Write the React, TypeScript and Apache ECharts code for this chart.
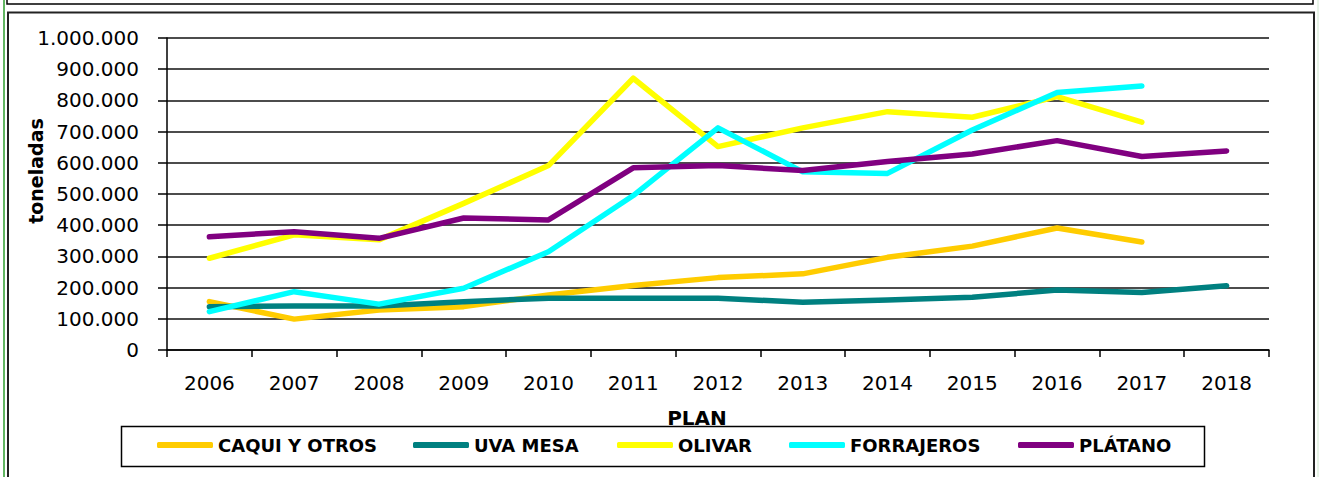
import React, { useEffect, useRef } from "react";
import * as echarts from "echarts";

const years = ["2006", "2007", "2008", "2009", "2010", "2011", "2012", "2013", "2014", "2015", "2016", "2017", "2018"];
const caqui = [155000, 99000, 128000, 139000, 176000, 207000, 232000, 244000, 297000, 333000, 391000, 346000, null];
const uvaMesa = [139000, 141000, 141000, 155000, 166000, 166000, 166000, 153000, 160000, 169000, 192000, 184000, 206000];
const olivar = [294000, 369000, 353000, 470000, 591000, 871000, 652000, 712000, 764000, 746000, 812000, 730000, null];
const forrajeros = [123000, 187000, 147000, 198000, 315000, 495000, 712000, 571000, 566000, 705000, 825000, 846000, null];
const platano = [363000, 379000, 358000, 423000, 417000, 584000, 591000, 575000, 604000, 628000, 671000, 620000, 638000];

const seriesNames = ["CAQUI Y OTROS", "UVA MESA", "OLIVAR", "FORRAJEROS", "PLÁTANO"];
const seriesColors = ["#FFCC00", "#008080", "#FFFF00", "#00FFFF", "#800080"];
const seriesData = [caqui, uvaMesa, olivar, forrajeros, platano];
const legendLefts = [157, 413, 617, 789, 1018];

const fmt = (v: number) => String(v).replace(/\B(?=(\d{3})+(?!\d))/g, ".");

export default function App() {
  const ref = useRef<HTMLDivElement>(null);
  useEffect(() => {
    document.body.style.margin = "0";
    const chart = echarts.init(ref.current!, null, { renderer: "svg" });
    const labelFont = { fontFamily: "DejaVu Sans", fontSize: 20, color: "#000" };
    chart.setOption({
      animation: false,
      backgroundColor: "#fff",
      grid: { left: 167, top: 38, right: 50, bottom: 127, containLabel: false },
      xAxis: {
        type: "category",
        data: years,
        boundaryGap: true,
        axisLine: { show: true, lineStyle: { color: "#000", width: 1.5 } },
        axisTick: { show: true, length: 7, interval: 0, lineStyle: { color: "#000", width: 1.5 } },
        axisLabel: { ...labelFont, margin: 23, interval: 0 },
        splitLine: { show: false },
      },
      yAxis: {
        type: "value",
        min: 0,
        max: 1000000,
        interval: 100000,
        axisLine: { show: true, lineStyle: { color: "#000", width: 1.5 } },
        axisTick: { show: true, length: 9, lineStyle: { color: "#000", width: 1.5 } },
        axisLabel: { ...labelFont, margin: 28, formatter: (v: number) => fmt(v) },
        splitLine: { show: true, lineStyle: { color: "#111", width: 1.5 } },
      },
      legend: seriesNames.map((n, i) => ({
        data: [n],
        left: legendLefts[i],
        top: 436,
        padding: 0,
        itemWidth: 56,
        itemHeight: 6,
        icon: "roundRect",
        selectedMode: false,
        textStyle: { fontFamily: "DejaVu Sans", fontWeight: "bold", fontSize: 18, color: "#000" },
      })),
      series: seriesNames.map((n, i) => ({
        name: n,
        type: "line",
        data: seriesData[i],
        showSymbol: false,
        symbol: "none",
        connectNulls: false,
        color: seriesColors[i],
        itemStyle: { color: seriesColors[i] },
        lineStyle: { color: seriesColors[i], width: 5.5, cap: "round", join: "round" },
        z: 3 + i,
      })),
      graphic: [
        { type: "line", shape: { x1: 4, y1: 0, x2: 4, y2: 477 }, style: { stroke: "#2e9e2e", lineWidth: 1.5 }, z: 0 },
        { type: "line", shape: { x1: 1318, y1: 0, x2: 1318, y2: 477 }, style: { stroke: "#cfe8cf", lineWidth: 1 }, z: 0 },
        { type: "rect", shape: { x: 7, y: -20, width: 1306, height: 24 }, style: { fill: "none", stroke: "#000", lineWidth: 1.5 }, z: 0 },
        { type: "rect", shape: { x: 8, y: 12.5, width: 1306, height: 480 }, style: { fill: "none", stroke: "#222", lineWidth: 2 }, z: 0 },
        { type: "rect", shape: { x: 121.5, y: 426.5, width: 1083, height: 40 }, style: { fill: "none", stroke: "#000", lineWidth: 1.5 }, z: 0 },
        {
          type: "text",
          x: 36,
          y: 171,
          rotation: Math.PI / 2,
          style: { text: "toneladas", font: 'bold 19px "DejaVu Sans"', fill: "#000", textAlign: "center", textVerticalAlign: "middle" },
        },
        {
          type: "text",
          x: 697,
          y: 418,
          style: { text: "PLAN", font: 'bold 20px "DejaVu Sans"', fill: "#000", textAlign: "center", textVerticalAlign: "middle" },
        },
      ],
    });
    return () => chart.dispose();
  }, []);
  return <div ref={ref} style={{ width: 1319, height: 477 }} />;
}
